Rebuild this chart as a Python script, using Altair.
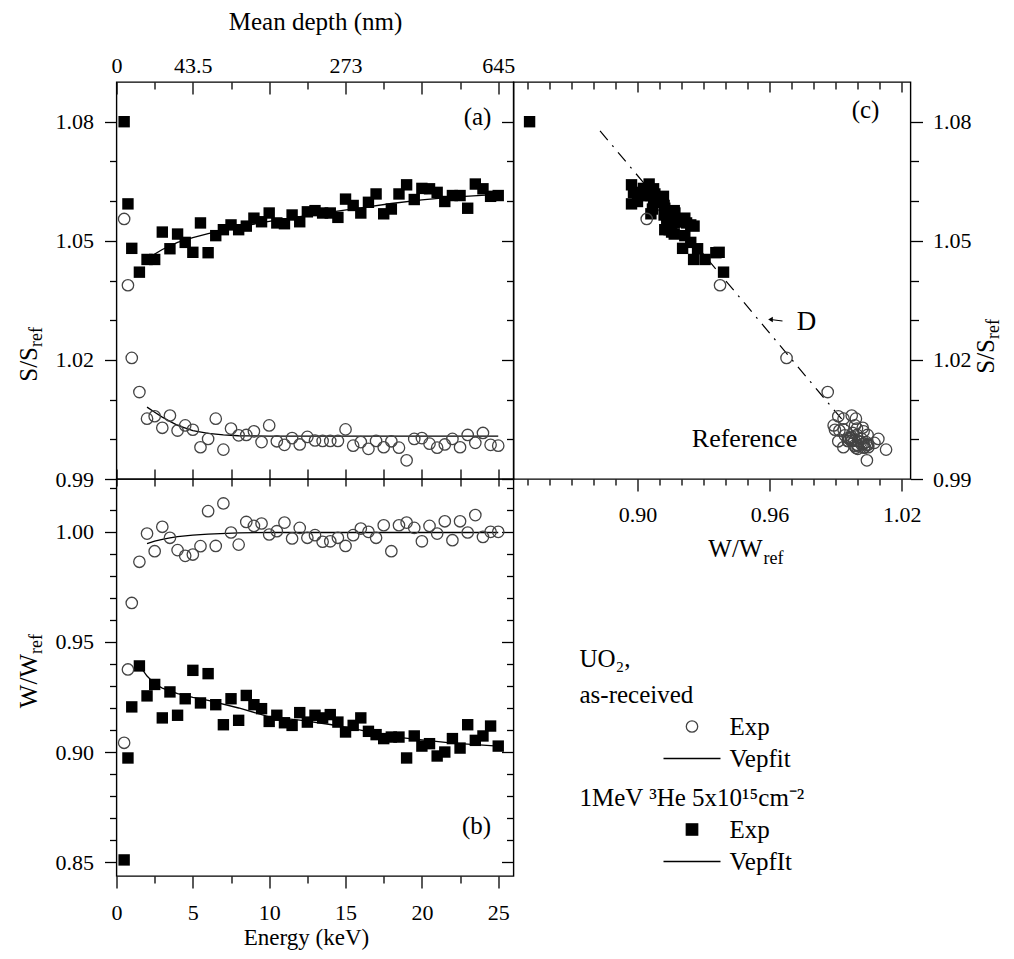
import altair as alt
import pandas as pd

SERIF = "Liberation Serif"

# ---------------- data ----------------
energy_kev = [0.5, 0.75, 1.0, 1.5, 2.0, 2.5, 3.0, 3.5, 4.0, 4.5, 5.0, 5.5, 6.0, 6.5,
              7.0, 7.5, 8.0, 8.5, 9.0, 9.5, 10.0, 10.5, 11.0, 11.5, 12.0, 12.5, 13.0,
              13.5, 14.0, 14.5, 15.0, 15.5, 16.0, 16.5, 17.0, 17.5, 18.0, 18.5, 19.0,
              19.5, 20.0, 20.5, 21.0, 21.5, 22.0, 22.5, 23.0, 23.5, 24.0, 24.5, 25.0]

s_asrec = [1.0555, 1.0388, 1.0205, 1.0119, 1.0052, 1.0058, 1.0029, 1.0060, 1.0022, 1.0035,
           1.0024, 0.9980, 1.0001, 1.0052, 0.9974, 1.0027, 1.0010, 1.0011, 1.0020, 0.9993,
           1.0035, 0.9995, 0.9986, 1.0003, 0.9987, 1.0006, 0.9997, 0.9996, 0.9996, 0.9996,
           1.0025, 0.9984, 0.9993, 0.9976, 0.9996, 0.9980, 0.9995, 0.9979, 0.9947, 1.0001,
           1.0003, 0.9989, 0.9979, 0.9987, 1.0001, 0.9980, 1.0011, 0.9991, 1.0016, 0.9986,
           0.9984]

w_asrec = [0.9042, 0.9375, 0.9677, 0.9864, 0.9992, 0.9912, 1.0023, 0.9973, 0.9917, 0.9891,
           0.9897, 0.9935, 1.0094, 0.9936, 1.0129, 0.9997, 0.9942, 1.0045, 1.0027, 1.0038,
           0.9988, 1.0003, 1.0042, 0.9970, 1.0018, 0.9973, 0.9985, 0.9955, 0.9957, 0.9973,
           0.9936, 0.9985, 1.0015, 1.0000, 0.9973, 1.0030, 0.9912, 1.0030, 1.0042, 1.0018,
           0.9957, 1.0027, 0.9992, 1.0048, 0.9962, 1.0048, 0.9997, 1.0076, 0.9977, 1.0000,
           1.0000]

s_impl = [1.0800, 1.0593, 1.0481, 1.0421, 1.0453, 1.0453, 1.0522, 1.0480, 1.0517, 1.0496,
          1.0471, 1.0545, 1.0470, 1.0513, 1.0528, 1.0540, 1.0528, 1.0537, 1.0557, 1.0548,
          1.0570, 1.0545, 1.0543, 1.0565, 1.0548, 1.0573, 1.0576, 1.0570, 1.0570, 1.0559,
          1.0605, 1.0589, 1.0570, 1.0597, 1.0618, 1.0568, 1.0580, 1.0618, 1.0641, 1.0604,
          1.0632, 1.0631, 1.0622, 1.0599, 1.0614, 1.0614, 1.0582, 1.0643, 1.0631, 1.0612,
          1.0614]

w_impl = [0.8510, 0.8973, 0.9205, 0.9391, 0.9255, 0.9307, 0.9155, 0.9273, 0.9167, 0.9242,
          0.9371, 0.9223, 0.9356, 0.9215, 0.9124, 0.9242, 0.9144, 0.9257, 0.9215, 0.9197,
          0.9139, 0.9167, 0.9133, 0.9121, 0.9179, 0.9136, 0.9167, 0.9155, 0.9170, 0.9136,
          0.9091, 0.9121, 0.9155, 0.9094, 0.9079, 0.9061, 0.9068, 0.9068, 0.8973, 0.9073,
          0.9027, 0.9038, 0.8982, 0.9000, 0.9061, 0.9018, 0.9124, 0.9053, 0.9073, 0.9118,
          0.9027]

# VEPFIT curves
fit_s_impl_e = [2.0, 3.0, 4.0, 5.0, 6.0, 8.0, 10.0, 12.0, 14.0, 16.0, 18.0, 20.0, 22.0, 25.0]
fit_s_impl = [1.0455, 1.0478, 1.0496, 1.0508, 1.0518, 1.0535, 1.0549, 1.0561, 1.0572,
              1.0583, 1.0594, 1.0603, 1.0610, 1.0617]
fit_s_asrec_e = [2.0, 2.5, 3.0, 3.5, 4.0, 5.0, 6.0, 7.0, 8.0, 10.0, 15.0, 20.0, 25.0]
fit_s_asrec = [1.0081, 1.0068, 1.0056, 1.0045, 1.0035, 1.0022, 1.0015, 1.0011, 1.0009,
               1.0008, 1.0008, 1.0008, 1.0008]
fit_w_asrec_e = [2.0, 2.5, 3.0, 3.5, 4.0, 5.0, 6.0, 8.0, 10.0, 25.0]
fit_w_asrec = [0.9947, 0.9958, 0.9966, 0.9973, 0.9978, 0.9985, 0.9990, 0.9995, 0.9997, 0.9997]
fit_w_impl_e = [1.5, 2.0, 2.5, 3.0, 4.0, 5.0, 6.0, 8.0, 10.0, 12.0, 14.0, 16.0, 18.0, 20.0,
                22.0, 25.0]
fit_w_impl = [0.9394, 0.9345, 0.9310, 0.9290, 0.9265, 0.9248, 0.9235, 0.9200, 0.9160,
              0.9145, 0.9125, 0.9100, 0.9070, 0.9055, 0.9040, 0.9027]

# defect line "D" in the S-W plot
line_d_w = [0.883, 1.000]
line_d_s = [1.0777, 1.0003]

# axes
energy_domain = [0, 26]
s_domain = [0.99, 1.09]
w_domain = [0.8437, 1.024]
e_major = [0, 5, 10, 15, 20, 25]
e_minor = [2.5, 7.5, 12.5, 17.5, 22.5]
depth_e = [0, 5, 15, 25]
depth_labels = ["0", "43.5", "273", "645"]
s_major = [0.99, 1.02, 1.05, 1.08]
s_minor = [1.00, 1.01, 1.03, 1.04, 1.06, 1.07]
w_major_b = [0.85, 0.90, 0.95, 1.00]
w_minor_b = [0.86, 0.87, 0.88, 0.89, 0.91, 0.92, 0.93, 0.94, 0.96, 0.97, 0.98, 0.99, 1.01, 1.02]
w_major_c = [0.90, 0.96, 1.02]
w_minor_c = [0.85, 0.86, 0.87, 0.88, 0.89, 0.91, 0.92, 0.93, 0.94, 0.95, 0.97, 0.98, 0.99,
             1.00, 1.01]

legend_ar_title = ["UO\u2082,", "as-received"]
legend_ar_entries = ["Exp", "Vepfit"]
legend_im_title = "1MeV \u00b3He 5x10\u00b9\u2075cm\u207b\u00b2"
legend_im_entries = ["Exp", "VepfIt"]

# ---------------- chart ----------------
PW, PH = 397, 397
LINE_PATH = "M-5,0H5"
CIRC = "#444444"

pts = pd.DataFrame({
    "E": energy_kev, "S_ar": s_asrec, "W_ar": w_asrec, "S_im": s_impl, "W_im": w_impl,
    "lab_ar": [legend_ar_entries[0]] * len(energy_kev),
    "lab_im": [legend_im_entries[0]] * len(energy_kev),
})

xE = alt.Scale(domain=energy_domain, nice=False, zero=False)
yS = alt.Scale(domain=s_domain, nice=False, zero=False)
yW = alt.Scale(domain=w_domain, nice=False, zero=False)
xW = alt.Scale(domain=w_domain, nice=False, zero=False)


def axis_layer(xf, yf, xs, ys, ch, **kw):
    base = dict(grid=False, domain=False, title=None, labels=False)
    base.update(kw)
    ax = alt.Axis(**base)
    if ch == "x":
        ex = alt.X(xf, type="quantitative", scale=xs, axis=ax)
        ey = alt.Y(yf, type="quantitative", scale=ys, axis=None)
    else:
        ex = alt.X(xf, type="quantitative", scale=xs, axis=None)
        ey = alt.Y(yf, type="quantitative", scale=ys, axis=ax)
    return alt.Chart(pts).mark_point(opacity=0).encode(x=ex, y=ey)


def text_layer(txt, x, y, size=25, align="center", baseline="middle", angle=0):
    props = dict(align=align, baseline=baseline, font=SERIF, fontSize=size, color="black")
    if angle:
        props["angle"] = angle
    return alt.Chart(pd.DataFrame({"t": [txt]})).mark_text(**props).encode(
        x=alt.value(x), y=alt.value(y), text="t:N")


def pts_layer(xf, yf, xs, ys, kind):
    if kind == "circle":
        mk = alt.Chart(pts).mark_point(shape="circle", filled=False, color=CIRC, size=130,
                                       strokeWidth=1.3, opacity=1)
    else:
        mk = alt.Chart(pts).mark_point(shape="square", filled=True, color="black", size=130,
                                       opacity=1)
    return mk.encode(x=alt.X(xf, type="quantitative", scale=xs, axis=None),
                     y=alt.Y(yf, type="quantitative", scale=ys, axis=None))


def fit_layer(xs_vals, ys_vals, xs, ys):
    df = pd.DataFrame({"x": xs_vals, "y": ys_vals})
    return alt.Chart(df).mark_line(color="black", strokeWidth=1.3).encode(
        x=alt.X("x:Q", scale=xs, axis=None), y=alt.Y("y:Q", scale=ys, axis=None))


depth_expr = " : ".join(f"datum.value == {e} ? '{l}'" for e, l in zip(depth_e, depth_labels)) + " : ''"

# ---- panel (a): S vs E ----
axes_a = [
    axis_layer("E", "S_ar", xE, yS, "y", orient="left", values=s_major, tickSize=12,
               labels=True, format=".2f", labelPadding=11),
    axis_layer("E", "S_ar", xE, yS, "y", orient="left", values=s_minor, tickSize=7),
    axis_layer("E", "S_ar", xE, yS, "y", orient="left", offset=-PW, values=s_major, tickSize=12),
    axis_layer("E", "S_ar", xE, yS, "y", orient="left", offset=-PW, values=s_minor, tickSize=7),
    axis_layer("E", "S_ar", xE, yS, "x", orient="top", values=depth_e, ticks=False, tickSize=0,
               labels=True, labelExpr=depth_expr, labelPadding=5, title="Mean depth (nm)",
               titlePadding=20),
    axis_layer("E", "S_ar", xE, yS, "x", orient="bottom", offset=-PH, values=e_major, tickSize=12),
    axis_layer("E", "S_ar", xE, yS, "x", orient="bottom", offset=-PH, values=e_minor, tickSize=7),
    axis_layer("E", "S_ar", xE, yS, "x", orient="top", offset=-PH, values=e_major + e_minor,
               tickSize=10),
]
panel_a = alt.layer(
    *axes_a,
    pts_layer("E", "S_im", xE, yS, "square"),
    fit_layer(fit_s_impl_e, fit_s_impl, xE, yS),
    fit_layer(fit_s_asrec_e, fit_s_asrec, xE, yS),
    pts_layer("E", "S_ar", xE, yS, "circle"),
    text_layer("(a)", 361, 35),
    text_layer("S/S", -80, 265, align="right", baseline="alphabetic", angle=270),
    text_layer("ref", -75, 265, size=18, align="left", baseline="alphabetic", angle=270),
).resolve_axis(x="independent", y="independent").properties(width=PW, height=PH)

# ---- panel (b): W vs E ----
leg_common = dict(orient="none", legendX=463, titleFont=SERIF, titleFontSize=25,
                  titleFontWeight="normal", titleColor="black", titleLineHeight=36,
                  titlePadding=6, titleLimit=400, labelFont=SERIF, labelFontSize=25,
                  labelColor="black", symbolSize=130, symbolStrokeWidth=1.3,
                  symbolOffset=100, labelOffset=25, rowPadding=6, padding=0)
leg_ar = dict(leg_common, legendY=168, title=legend_ar_title)
leg_im = dict(leg_common, legendY=307, title=legend_im_title, symbolStrokeColor="black")

circ_b = alt.Chart(pts).mark_point(filled=False, size=130, strokeWidth=1.3, opacity=1).encode(
    x=alt.X("E:Q", scale=xE, axis=None),
    y=alt.Y("W_ar:Q", scale=yW, axis=None),
    shape=alt.Shape("lab_ar:N", scale=alt.Scale(domain=legend_ar_entries, range=["circle", LINE_PATH]),
                    legend=alt.Legend(**leg_ar)),
    color=alt.Color("lab_ar:N", scale=alt.Scale(domain=legend_ar_entries, range=[CIRC, "black"]),
                    legend=alt.Legend(**leg_ar)),
)
sq_b = alt.Chart(pts).mark_point(filled=True, size=130, opacity=1).encode(
    x=alt.X("E:Q", scale=xE, axis=None),
    y=alt.Y("W_im:Q", scale=yW, axis=None),
    shape=alt.Shape("lab_im:N", scale=alt.Scale(domain=legend_im_entries, range=["square", LINE_PATH]),
                    legend=alt.Legend(**leg_im)),
    color=alt.Color("lab_im:N", scale=alt.Scale(domain=legend_im_entries, range=["black", "black"]),
                    legend=alt.Legend(**leg_im)),
)
axes_b = [
    axis_layer("E", "W_ar", xE, yW, "y", orient="left", values=w_major_b, tickSize=12,
               labels=True, format=".2f", labelPadding=11),
    axis_layer("E", "W_ar", xE, yW, "y", orient="left", values=w_minor_b, tickSize=7),
    axis_layer("E", "W_ar", xE, yW, "y", orient="left", offset=-PW, values=w_major_b, tickSize=12),
    axis_layer("E", "W_ar", xE, yW, "y", orient="left", offset=-PW, values=w_minor_b, tickSize=7),
    axis_layer("E", "W_ar", xE, yW, "x", orient="bottom", values=e_major, tickSize=12,
               labels=True, format="d", labelPadding=14),
    axis_layer("E", "W_ar", xE, yW, "x", orient="bottom", values=e_minor, tickSize=7),
    axis_layer("E", "W_ar", xE, yW, "x", orient="bottom", offset=-PH, values=e_major + e_minor,
               tickSize=7),
]
panel_b = alt.layer(
    *axes_b,
    sq_b,
    fit_layer(fit_w_impl_e, fit_w_impl, xE, yW),
    fit_layer(fit_w_asrec_e, fit_w_asrec, xE, yW),
    circ_b,
    text_layer("(b)", 360, 347),
    text_layer("Energy (keV)", 190, 466, size=23, align="center", baseline="alphabetic"),
    text_layer("W/W", -80, 175, align="right", baseline="alphabetic", angle=270),
    text_layer("ref", -75, 175, size=18, align="left", baseline="alphabetic", angle=270),
).resolve_scale(shape="independent", color="independent").resolve_axis(
    x="independent", y="independent").properties(width=PW, height=PH)

# ---- panel (c): S vs W ----
line_d = pd.DataFrame({"w": line_d_w, "s": line_d_s})
axes_c = [
    axis_layer("W_ar", "S_ar", xW, yS, "y", orient="right", values=s_major, tickSize=12,
               labels=True, format=".2f", labelPadding=10),
    axis_layer("W_ar", "S_ar", xW, yS, "y", orient="right", values=s_minor, tickSize=8),
    axis_layer("W_ar", "S_ar", xW, yS, "x", orient="bottom", values=w_major_c, tickSize=12,
               labels=True, format=".2f", labelPadding=13),
    axis_layer("W_ar", "S_ar", xW, yS, "x", orient="bottom", values=w_minor_c, tickSize=6),
    axis_layer("W_ar", "S_ar", xW, yS, "x", orient="bottom", offset=-PH, values=w_major_c,
               tickSize=10),
    axis_layer("W_ar", "S_ar", xW, yS, "x", orient="bottom", offset=-PH, values=w_minor_c,
               tickSize=7),
]
panel_c = alt.layer(
    *axes_c,
    alt.Chart(line_d).mark_line(color="black", strokeWidth=1.2, strokeDash=[12, 7, 2, 7]).encode(
        x=alt.X("w:Q", scale=xW, axis=None), y=alt.Y("s:Q", scale=yS, axis=None)),
    pts_layer("W_im", "S_im", xW, yS, "square"),
    pts_layer("W_ar", "S_ar", xW, yS, "circle"),
    text_layer("(c)", 352, 28),
    text_layer("D", 293, 240, size=27),
    alt.Chart(pd.DataFrame({"k": [0]})).mark_rule(color="black", strokeWidth=1.2).encode(
        x=alt.value(269), x2=alt.value(257), y=alt.value(239), y2=alt.value(237.5)),
    alt.Chart(pd.DataFrame({"k": [0]})).mark_point(shape="triangle-left", filled=True,
                                                    color="black", size=28, opacity=1).encode(
        x=alt.value(257), y=alt.value(237.5)),
    text_layer("Reference", 231, 357, size=26),
    text_layer("W/W", 249, 475, align="right", baseline="alphabetic"),
    text_layer("ref", 250, 482, size=18, align="left", baseline="alphabetic"),
    text_layer("S/S", 480, 257, align="right", baseline="alphabetic", angle=270),
    text_layer("ref", 485, 257, size=18, align="left", baseline="alphabetic", angle=270),
).resolve_axis(x="independent", y="independent").properties(width=PW, height=PH)

chart = alt.concat(panel_a, panel_c, panel_b, columns=2, spacing=0, bounds="flush").properties(
    padding={"left": 7.5, "top": 0, "right": 0, "bottom": 0}
).configure_view(stroke="black", strokeWidth=1.4).configure_axis(
    labelFont=SERIF, labelFontSize=22, labelColor="black", tickColor="black", tickWidth=1.3,
    titleFont=SERIF, titleFontSize=25, titleFontWeight="normal", titleColor="black",
    grid=False, domain=False, labelOverlap=False, labelFlush=False
).configure_legend(padding=0)

chart.save("out.html", embed_options={"renderer": "svg", "actions": False})
